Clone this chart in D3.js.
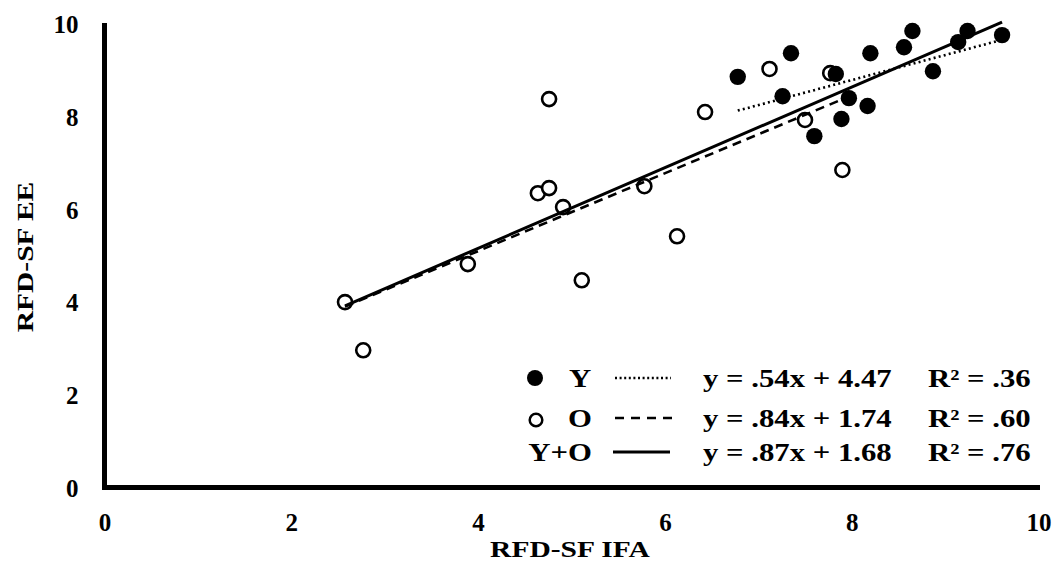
<!DOCTYPE html>
<html>
<head>
<meta charset="utf-8">
<script src="https://cdn.jsdelivr.net/npm/d3@7"></script>
<style>
  html, body { margin: 0; padding: 0; background: #fff; }
  svg { display: block; }
  text { font-family: "Liberation Serif", "Times New Roman", serif; font-weight: bold; fill: #000; }
</style>
</head>
<body>
<svg id="chart" width="1059" height="569"></svg>
<script>
// Young (Y) group: RFD-SF IFA vs RFD-SF EE
const youngX = [6.78, 7.35, 7.26, 7.83, 8.20, 8.56, 8.65, 9.24, 9.14, 9.61, 8.87, 7.97, 8.17, 7.89, 7.60];
const youngY = [8.86, 9.37, 8.44, 8.92, 9.37, 9.50, 9.85, 9.85, 9.61, 9.76, 8.98, 8.40, 8.23, 7.95, 7.58];

// Old (O) group
const oldX = [2.575, 2.77, 3.89, 4.76, 4.64, 4.76, 4.91, 5.11, 5.78, 6.13, 6.43, 7.12, 7.50, 7.77, 7.90];
const oldY = [4.00, 2.96, 4.82, 8.38, 6.35, 6.46, 6.05, 4.47, 6.50, 5.42, 8.10, 9.03, 7.93, 8.94, 6.85];

// Linear fits (slope, intercept, R²) as reported
const fitNames = ["Y", "O", "Y+O"];
const fitSlopes = [0.54, 0.84, 0.87];
const fitIntercepts = [4.47, 1.74, 1.68];
const fitR2 = [".36", ".60", ".76"];
const fitEquations = ["y = .54x + 4.47", "y = .84x + 1.74", "y = .87x + 1.68"];

const xTicks = [0, 2, 4, 6, 8, 10];
const yTicks = [0, 2, 4, 6, 8, 10];
const xTitle = "RFD-SF IFA";
const yTitle = "RFD-SF EE";

const svg = d3.select("#chart");
const x = d3.scaleLinear().domain([0, 10]).range([104.5, 1038.5]);
const y = d3.scaleLinear().domain([0, 10]).range([487.5, 24]);

const STRETCH = 1.23;

// Regression line segments spanning each group's x extent
const allX = youngX.concat(oldX);
const groups = [
  { ext: d3.extent(youngX), dash: "2,3.2", width: 2.6 },
  { ext: d3.extent(oldX), dash: "9,6", width: 2.6 },
  { ext: d3.extent(allX), dash: null, width: 3 }
];

// Points
const youngPts = youngX.map((v, i) => ({ x: v, y: youngY[i] }));
const oldPts = oldX.map((v, i) => ({ x: v, y: oldY[i] }));

svg.append("g").selectAll("circle").data(oldPts).join("circle")
  .attr("cx", d => x(d.x)).attr("cy", d => y(d.y)).attr("r", 7)
  .attr("fill", "#fff").attr("stroke", "#000").attr("stroke-width", 2.6);

svg.append("g").selectAll("circle").data(youngPts).join("circle")
  .attr("cx", d => x(d.x)).attr("cy", d => y(d.y)).attr("r", 8.2)
  .attr("fill", "#000");

// Trend lines
const line = d3.line().x(d => x(d[0])).y(d => y(d[1]));
groups.forEach((g, i) => {
  const pts = g.ext.map(v => [v, fitSlopes[i] * v + fitIntercepts[i]]);
  svg.append("path").attr("d", line(pts))
    .attr("fill", "none").attr("stroke", "#000")
    .attr("stroke-width", g.width)
    .attr("stroke-dasharray", g.dash);
});

// Axes
const xAxis = svg.append("g").attr("transform", `translate(0,${y(0)})`)
  .call(d3.axisBottom(x).tickValues(xTicks).tickSize(0).tickFormat(d3.format("d")));
xAxis.select(".domain").attr("stroke", "#000").attr("stroke-width", 5)
  .attr("d", `M${x(0) - 2.5},0H${x(10) + 1.5}`);
xAxis.selectAll(".tick text")
  .attr("y", 35).attr("dy", "0.35em")
  .style("font-size", "25px").style("font-family", "'Liberation Serif', serif").style("font-weight", "bold");

const yAxis = svg.append("g").attr("transform", `translate(${x(0)},0)`)
  .call(d3.axisLeft(y).tickValues(yTicks).tickSize(0).tickPadding(26).tickFormat(d3.format("d")));
yAxis.select(".domain").attr("stroke", "#000").attr("stroke-width", 5)
  .attr("d", `M0,${y(10) - 1}V${y(0) + 2.5}`);
yAxis.selectAll(".tick text")
  .attr("dy", "0.35em")
  .style("font-size", "25px").style("font-family", "'Liberation Serif', serif").style("font-weight", "bold");

// Axis titles
svg.append("g").attr("transform", `translate(570,557) scale(${STRETCH},1)`)
  .append("text").attr("text-anchor", "middle").style("font-size", "24px").text(xTitle);
svg.append("g").attr("transform", `translate(33,257) rotate(-90) scale(${STRETCH},1)`)
  .append("text").attr("text-anchor", "middle").style("font-size", "24px").text(yTitle);

// Legend
const rowsY = [378, 418, 452];
const legend = svg.append("g");

legend.append("circle").attr("cx", 535).attr("cy", rowsY[0]).attr("r", 8).attr("fill", "#000");
legend.append("circle").attr("cx", 536).attr("cy", rowsY[1] + 2).attr("r", 6.3)
  .attr("fill", "#fff").attr("stroke", "#000").attr("stroke-width", 2.5);

const labelX = [580, 580, 560];
fitNames.forEach((name, i) => {
  legend.append("g").attr("transform", `translate(${labelX[i]},${rowsY[i] + 9}) scale(${STRETCH},1)`)
    .append("text").attr("text-anchor", "middle").style("font-size", "25px").text(name);
});

const swatchX = [[615, 671], [615, 672], [613, 670]];
groups.forEach((g, i) => {
  legend.append("line")
    .attr("x1", swatchX[i][0]).attr("x2", swatchX[i][1])
    .attr("y1", rowsY[i]).attr("y2", rowsY[i])
    .attr("stroke", "#000").attr("stroke-width", i === 2 ? 3 : 2.4)
    .attr("stroke-dasharray", i === 0 ? "2,2.6" : (i === 1 ? "9,7" : null));
});

fitEquations.forEach((eq, i) => {
  legend.append("g").attr("transform", `translate(703,${rowsY[i] + 9}) scale(${STRETCH},1)`)
    .append("text").style("font-size", "25px").text(eq);
  legend.append("g").attr("transform", `translate(928,${rowsY[i] + 9}) scale(${STRETCH},1)`)
    .append("text").style("font-size", "25px").text("R² = " + fitR2[i]);
});
</script>
</body>
</html>
